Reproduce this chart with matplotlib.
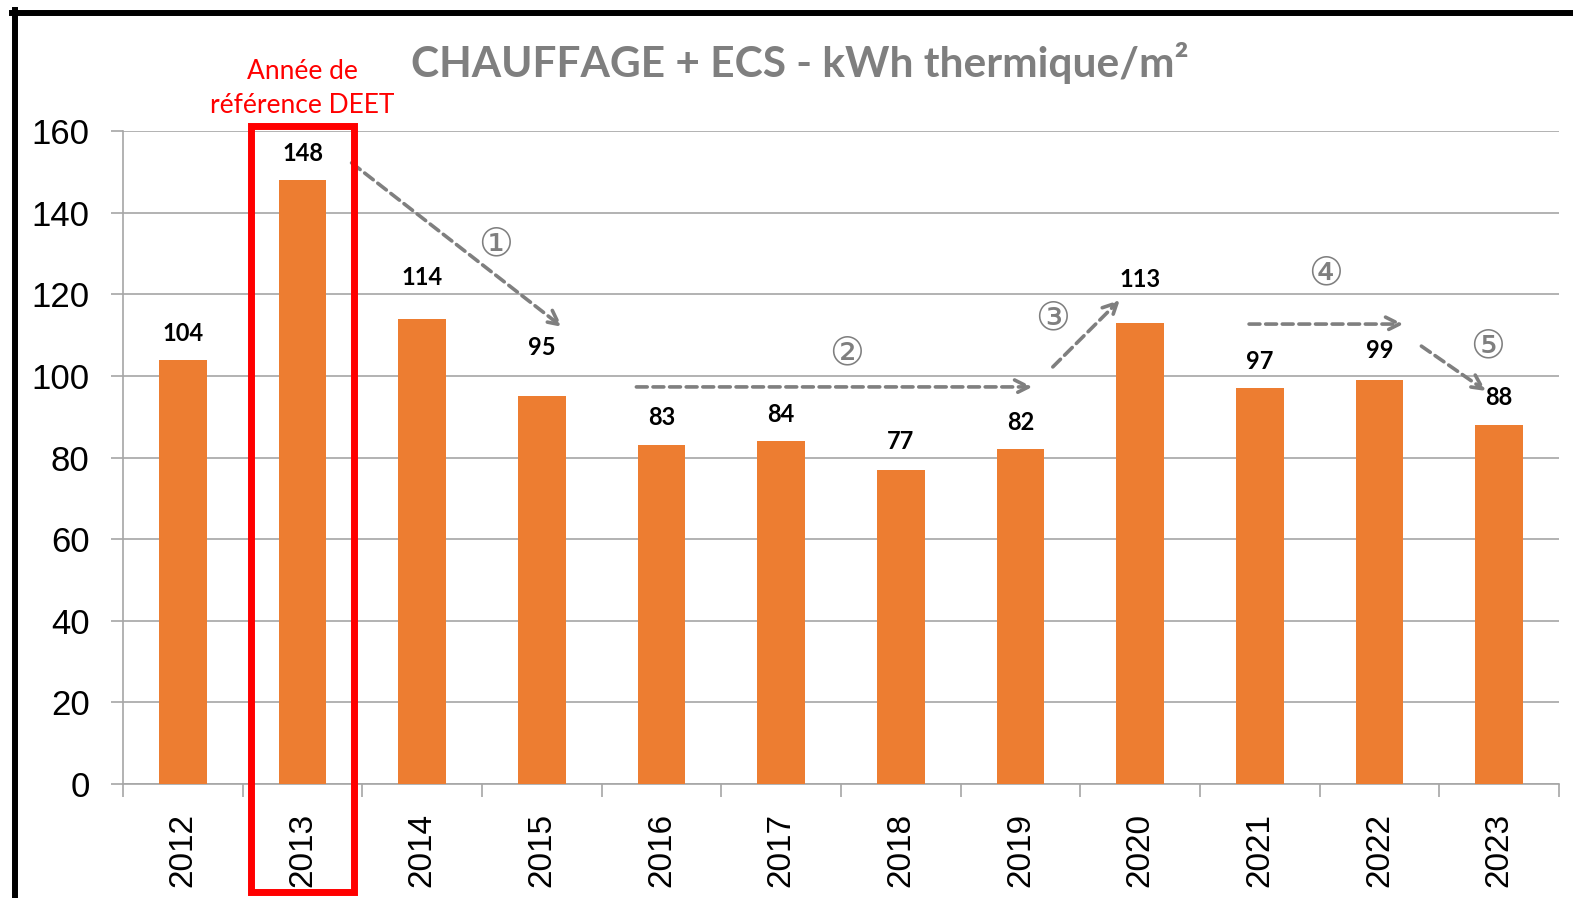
import matplotlib
matplotlib.use("Agg")
import matplotlib.pyplot as plt
from matplotlib.lines import Line2D
from matplotlib.patches import Rectangle
import numpy as np

years = ['2012', '2013', '2014', '2015', '2016', '2017', '2018', '2019', '2020', '2021', '2022', '2023']
values = [104, 148, 114, 95, 83, 84, 77, 82, 113, 97, 99, 88]
# distance of each value label above its bar (points)
label_gap = [19, 19, 29.5, 35, 20, 19, 20, 19, 31, 19, 21.5, 20]

# trend arrows: (x start, y start, x end, y end) in data units, label and label position
arrows = [
    (1.41, 152.2, 3.17, 112.0, '①', 2.61, 132.1),
    (3.79, 97.3, 7.10, 97.3, '②', 5.55, 105.6),
    (7.27, 102.2, 7.83, 118.6, '③', 7.27, 114.2),
    (8.91, 112.7, 10.20, 112.7, '④', 9.55, 125.2),
    (10.35, 107.3, 10.89, 96.3, '⑤', 10.90, 107.3),
]

orange = '#ED7D31'
gray = '#7F7F7F'
grid_gray = '#A6A6A6'

fig = plt.figure(figsize=(15.73, 8.98), dpi=100)
ax = fig.add_axes([0.0782, 0.1269, 0.9129, 0.7272])

x = np.arange(len(years))
ax.bar(x, values, width=0.4, color=orange, zorder=3)

ax.set_xlim(-0.5, len(years) - 0.5)
ax.set_ylim(0, 160)
ax.set_yticks(range(0, 161, 20))
ax.yaxis.grid(True, color=grid_gray, linewidth=1.2, zorder=0)
ax.set_axisbelow(True)

for s in ['top', 'right']:
    ax.spines[s].set_visible(False)
for s in ['left', 'bottom']:
    ax.spines[s].set_color(grid_gray)
    ax.spines[s].set_linewidth(1.2)

ax.set_xticks(x)
ax.set_xticklabels(years, rotation=90, fontsize=24, family='Liberation Sans')
ax.set_xticks(np.arange(-0.5, len(years)), minor=True)
ax.tick_params(axis='x', which='major', length=0, pad=21)
ax.tick_params(axis='x', which='minor', length=9, width=1.2, color=grid_gray)
ax.tick_params(axis='y', length=9, width=1.2, color=grid_gray, labelsize=25, pad=15)
for lab in ax.get_yticklabels():
    lab.set_family('Liberation Sans')

for xi, v, g in zip(x, values, label_gap):
    ax.annotate(str(v), (xi, v), xytext=(0, g), textcoords='offset points',
                ha='center', va='center', fontsize=17, fontweight='bold', family='Lato')

for x0, y0, x1, y1, lab, lx, ly in arrows:
    ax.annotate('', xy=(x1, y1), xytext=(x0, y0),
                arrowprops=dict(arrowstyle='->,head_length=1.0,head_width=0.5', color=gray,
                                lw=2.6, linestyle=(0, (3, 1.6)), shrinkA=0, shrinkB=0),
                annotation_clip=False)
    ax.text(lx, ly, lab, ha='center', va='center', fontsize=28, color=gray,
            family=['DejaVu Sans'])

# reference year box
ax.add_patch(Rectangle((0.57, -26.5), 0.86, 187.7, fill=False, edgecolor='red',
                       linewidth=5, clip_on=False, zorder=5))
ax.text(1.0, 170.5, 'Année de\nréférence DEET', ha='center', va='center', color='red',
        fontsize=19, family='Lato', linespacing=1.45, clip_on=False)

fig.text(0.5086, 0.930, 'CHAUFFAGE + ECS - kWh thermique/m²', ha='center', va='center',
         fontsize=30.5, fontweight='bold', color=gray, family='Lato')

# black frame
fig.add_artist(Line2D([12 / 1573, 1], [1 - 13 / 898, 1 - 13 / 898], color='black', linewidth=4.3))
fig.add_artist(Line2D([15 / 1573, 15 / 1573], [0, 1 - 10 / 898], color='black', linewidth=4.3))

fig.savefig('out.png', dpi=100)
